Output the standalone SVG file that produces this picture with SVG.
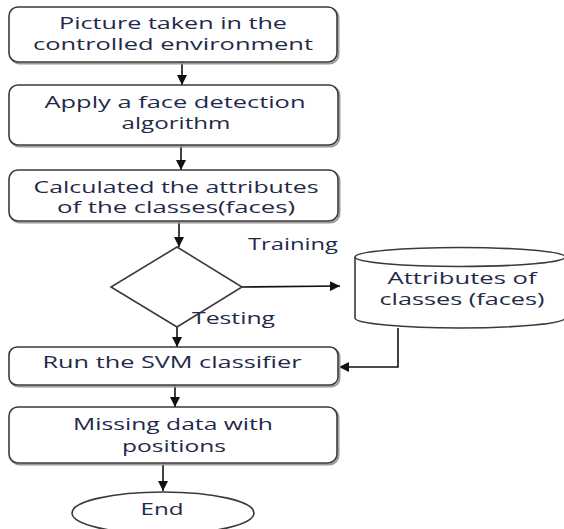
<svg xmlns="http://www.w3.org/2000/svg" width="564" height="529" viewBox="0 0 564 529">
  <style>
    .box { fill: #ffffff; stroke: #3a3a3a; stroke-width: 1.6; }
    .shade { fill: none; stroke: #9a9a9a; stroke-width: 2; }
    .lbl { font-family: "Open Sans", "Liberation Sans", sans-serif; font-size: 16px; fill: #1f2a4a; text-anchor: middle; }
    .tag { font-family: "Open Sans", "Liberation Sans", sans-serif; font-size: 16px; fill: #1f2a4a; }
    .wire { fill: none; stroke: #111111; stroke-width: 1.6; }
  </style>
  <defs>
    <marker id="arrow" viewBox="0 0 10 10" refX="10" refY="5" markerWidth="10" markerHeight="10" markerUnits="userSpaceOnUse" orient="auto">
      <path d="M0,0 L10,5 L0,10 z" fill="#111111"/>
    </marker>
  </defs>

  <rect width="564" height="529" fill="#ffffff"/>

  <g id="connectors">
    <path class="wire" d="M182,62 V85" marker-end="url(#arrow)"/>
    <path class="wire" d="M181,145 V170" marker-end="url(#arrow)"/>
    <path class="wire" d="M179,221 V247" marker-end="url(#arrow)"/>
    <path class="wire" d="M242,287 L340,286" marker-end="url(#arrow)"/>
    <path class="wire" d="M177,327 V347" marker-end="url(#arrow)"/>
    <path class="wire" d="M398,328 V367 H339" marker-end="url(#arrow)"/>
    <path class="wire" d="M175,385 V407" marker-end="url(#arrow)"/>
    <path class="wire" d="M163,463 V491" marker-end="url(#arrow)"/>
  </g>

  <g id="start">
    <rect class="shade" x="10.5" y="8.5" width="328" height="55" rx="9"/>
    <rect class="box" x="9" y="7" width="328" height="55" rx="9"/>
    <text class="lbl" x="173" y="29" textLength="228" lengthAdjust="spacingAndGlyphs">Picture taken in the</text>
    <text class="lbl" x="173" y="50" textLength="280" lengthAdjust="spacingAndGlyphs">controlled environment</text>
  </g>

  <g id="detect">
    <rect class="shade" x="10.5" y="86.5" width="329" height="60" rx="9"/>
    <rect class="box" x="9" y="85" width="329" height="60" rx="9"/>
    <text class="lbl" x="175" y="108" textLength="261" lengthAdjust="spacingAndGlyphs">Apply a face detection</text>
    <text class="lbl" x="176" y="129" textLength="109" lengthAdjust="spacingAndGlyphs">algorithm</text>
  </g>

  <g id="attributes">
    <rect class="shade" x="10.5" y="171.5" width="329" height="51" rx="9"/>
    <rect class="box" x="9" y="170" width="329" height="51" rx="9"/>
    <text class="lbl" x="176" y="193" textLength="285" lengthAdjust="spacingAndGlyphs">Calculated the attributes</text>
    <text class="lbl" x="176" y="213" textLength="238" lengthAdjust="spacingAndGlyphs">of the classes(faces)</text>
  </g>

  <g id="decision">
    <polygon class="box" points="177,247 242,287 177,327 111,287"/>
    <text class="tag" x="248" y="250" textLength="90" lengthAdjust="spacingAndGlyphs">Training</text>
    <text class="tag" x="192" y="324" textLength="83" lengthAdjust="spacingAndGlyphs">Testing</text>
  </g>

  <g id="store">
    <path class="box" d="M355,257 V318 A105,10 0 0 0 565,318 V257"/>
    <ellipse class="box" cx="460" cy="257" rx="105" ry="9.5"/>
    <text class="lbl" x="462" y="284" textLength="149" lengthAdjust="spacingAndGlyphs">Attributes of</text>
    <text class="lbl" x="462" y="305" textLength="165" lengthAdjust="spacingAndGlyphs">classes (faces)</text>
  </g>

  <g id="classify">
    <rect class="shade" x="10.5" y="348.5" width="329" height="38" rx="8"/>
    <rect class="box" x="9" y="347" width="329" height="38" rx="8"/>
    <text class="lbl" x="172" y="368" textLength="259" lengthAdjust="spacingAndGlyphs">Run the SVM classifier</text>
  </g>

  <g id="result">
    <rect class="shade" x="10.5" y="408.5" width="328" height="56" rx="9"/>
    <rect class="box" x="9" y="407" width="328" height="56" rx="9"/>
    <text class="lbl" x="173" y="430" textLength="200" lengthAdjust="spacingAndGlyphs">Missing data with</text>
    <text class="lbl" x="174" y="452" textLength="104" lengthAdjust="spacingAndGlyphs">positions</text>
  </g>

  <g id="end">
    <ellipse class="box" cx="163" cy="513" rx="91" ry="21"/>
    <text class="lbl" x="162" y="515" textLength="43" lengthAdjust="spacingAndGlyphs">End</text>
  </g>
</svg>
